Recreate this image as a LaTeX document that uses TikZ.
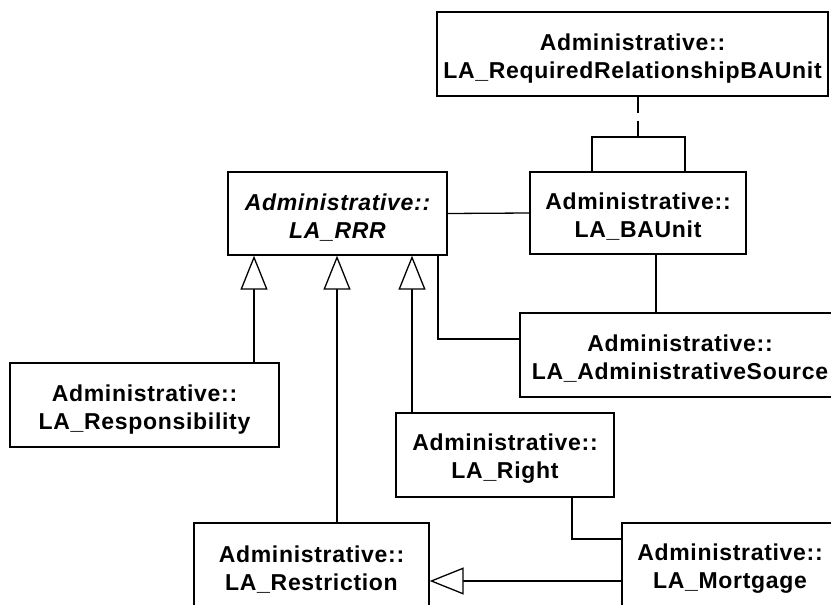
\documentclass[tikz,border=0pt]{standalone}
\usepackage{fontspec}
\setmainfont[LetterSpace=3]{Liberation Sans}
\usetikzlibrary{arrows.meta}
% raises the first text line so that the two lines sit a little lower in a box
\newcommand{\clsstrut}{\rule{0pt}{24.8pt}}
\begin{document}
\begin{tikzpicture}[x=1pt,y=-1pt,
  cls/.style={draw=black, line width=1.3pt, fill=white, align=center,
    inner sep=0pt, font=\bfseries\fontsize{23}{28}\selectfont},
  link/.style={draw=black, line width=1.3pt},
  gen/.style={link, -{Triangle[open, length=34pt, width=27pt, fill=white]}},
  dep/.style={link, dash pattern=on 16pt off 8pt}]
\useasboundingbox (0,0) rectangle (831,605);
\fill[white] (0,0) rectangle (831,605);

% classes
\node[cls, minimum width=391pt, minimum height=84pt] (req)   at (632.5,54)  {\clsstrut Administrative::\\LA\_RequiredRelationshipBAUnit};
\node[cls, minimum width=216pt, minimum height=82pt] (bau)   at (638,213)   {\clsstrut Administrative::\\LA\_BAUnit};
\node[cls, minimum width=219pt, minimum height=83pt, font=\bfseries\itshape\fontsize{23}{28}\selectfont] (rrr) at (337.5,213.5) {\clsstrut Administrative::\\LA\_RRR};
\node[cls, minimum width=269pt, minimum height=84pt] (resp)  at (144.5,405) {\clsstrut Administrative::\\LA\_Responsibility};
\node[cls, minimum width=320pt, minimum height=84pt] (src)   at (680,355)   {\clsstrut Administrative::\\LA\_AdministrativeSource};
\node[cls, minimum width=218pt, minimum height=84pt] (right) at (505,455)   {\clsstrut Administrative::\\LA\_Right};
\node[cls, minimum width=235pt, minimum height=84pt] (restr) at (311.5,565) {\clsstrut Administrative::\\LA\_Restriction};
\node[cls, minimum width=216pt, minimum height=84pt] (mort)  at (730,565)   {\clsstrut Administrative::\\LA\_Mortgage};

% routing points
\coordinate (gA) at (254,0);
\coordinate (gB) at (337,0);
\coordinate (gC) at (412,0);
\coordinate (s1) at (438,339);
\coordinate (s2) at (656,0);
\coordinate (jy) at (638,137);
\coordinate (jl) at (592,0);
\coordinate (jr) at (685,0);
\coordinate (m1) at (572,539);
\coordinate (m2) at (0,581);

% associations
\draw[link] (rrr.east) -- (bau.west);
\draw[link] (rrr.south -| s1) |- (src.west |- s1);
\draw[link] (bau.south -| s2) -- (src.north -| s2);
\draw[link] (right.south -| m1) |- (mort.west |- m1);

% association class link
\draw[dep] (req.south -| jy) -- (jy);
\draw[link] (bau.north -| jl) |- (jy) -| (bau.north -| jr);

% generalizations
\draw[gen] (resp.north -| gA) -- (rrr.south -| gA);
\draw[gen] (restr.north -| gB) -- (rrr.south -| gB);
\draw[gen] (right.north -| gC) -- (rrr.south -| gC);
\draw[gen] (mort.west |- m2) -- (restr.east |- m2);
\end{tikzpicture}
\end{document}
